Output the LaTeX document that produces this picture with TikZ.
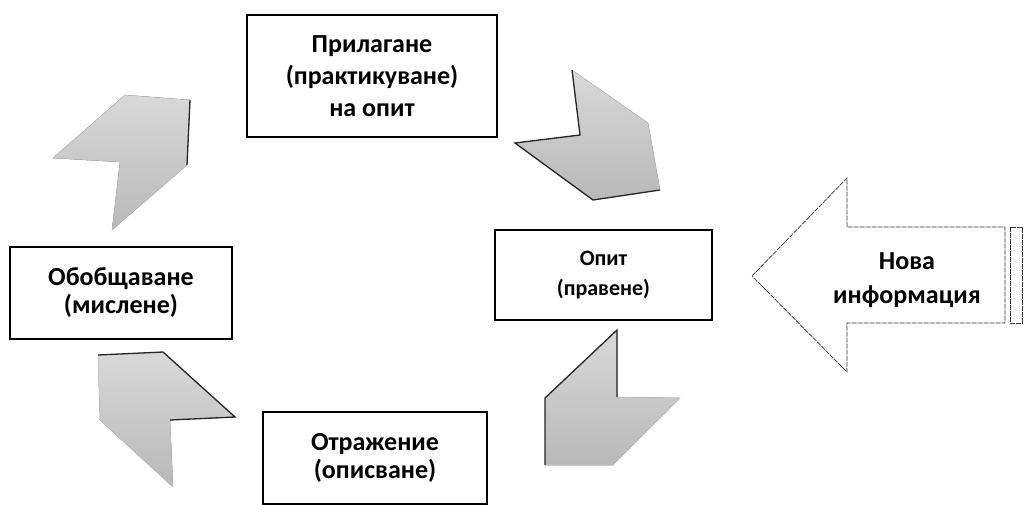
\documentclass[tikz,border=0pt]{standalone}
\usepackage{fontspec}
\setmainfont{Carlito}
\tikzset{
  stage/.style={draw=black, line width=1.3pt, fill=white, align=center,
    font=\bfseries, inner sep=0pt},
  chev/.style={top color=gray!30, bottom color=gray!55, draw=gray!55, line width=0.5pt},
  chevedge/.style={draw=black!85, line width=1.3pt},
  infoarrow/.style={draw=black!80, line width=0.7pt, dash pattern=on 5pt off 1pt, fill=white},
}
\begin{document}
\begin{tikzpicture}[x=1pt, y=-1pt]
\useasboundingbox (0,0) rectangle (1024,504);

% stage boxes
\node[stage, minimum width=250pt, minimum height=122pt,
  font=\bfseries\fontsize{26}{32}\selectfont] (apply) at (372,76)
  {Прилагане\\(практикуване)\\на опит};
\node[stage, minimum width=217pt, minimum height=90pt,
  font=\bfseries\fontsize{22}{30}\selectfont] (exp) at (603.5,275)
  {Опит\\(правене)};
\node[stage, minimum width=222pt, minimum height=92pt,
  font=\bfseries\fontsize{26}{28}\selectfont] (gen) at (121,293)
  {Обобщаване\\(мислене)};
\node[stage, minimum width=224pt, minimum height=92pt,
  font=\bfseries\fontsize{26}{28}\selectfont] (refl) at (375,458)
  {Отражение\\(описване)};

% chevrons between the stages
% generalising -> applying
\fill[chev] (53,158) -- (125,95) -- (190,100) -- (187,165) -- (112,230) -- (120,162) -- cycle;
\draw[chevedge] (190,100) -- (187,165);
% applying -> experience
\fill[chev] (572,70) -- (648,123) -- (660,190) -- (593,200) -- (515,143) -- (580,135) -- cycle;
\draw[chevedge] (572,70) -- (580,135) -- (515,143) -- (593,200) -- (660,190);
% experience -> reflecting
\fill[chev] (617,330) -- (617,397) -- (680,398) -- (613,465) -- (545,465) -- (545,398) -- cycle;
\draw[chevedge] (617,397) -- (617,330) -- (545,398) -- (545,465);
% reflecting -> generalising
\fill[chev] (98,355) -- (163,352) -- (235,417) -- (170,420) -- (173,487) -- (100,420) -- cycle;
\draw[chevedge] (98,355) -- (163,352) -- (235,417) -- (170,420);

% incoming new information
\coordinate (tip) at (752,276);
\draw[infoarrow] (tip) -- (847,178) -- (847,227) -- (1005,227) -- (1005,323) -- (847,323) -- (847,372) -- cycle;
\draw[infoarrow] (1010,227) rectangle (1022,323);
\node[align=center, font=\bfseries\fontsize{26}{34}\selectfont] (info) at (907,280)
  {Нова\\информация};
\end{tikzpicture}
\end{document}
